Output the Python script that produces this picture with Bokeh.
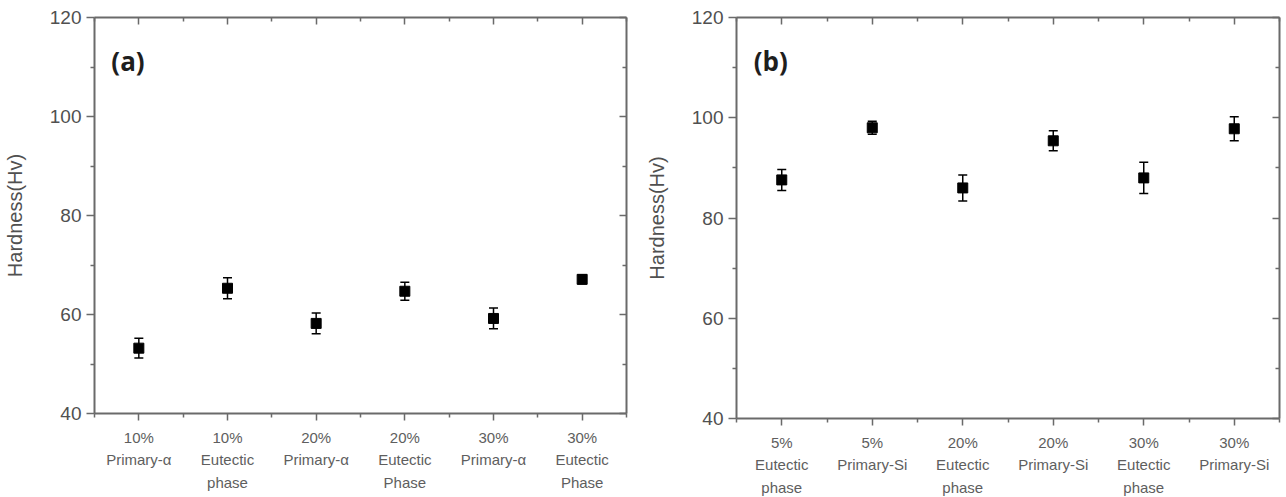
from bokeh.plotting import figure
from bokeh.models import (ColumnDataSource, FixedTicker, LinearAxis, Range1d,
                          Whisker, TeeHead, Label)
from bokeh.layouts import row
from bokeh.embed import file_html
from bokeh.resources import INLINE

# Panel (a): Al-Si alloys, primary alpha vs eutectic phase
labels_a = ["10%\nPrimary-α", "10%\nEutectic\nphase", "20%\nPrimary-α",
            "20%\nEutectic\nPhase", "30%\nPrimary-α", "30%\nEutectic\nPhase"]
hard_a = [53.2, 65.3, 58.2, 64.7, 59.2, 67.1]
err_a = [2.0, 2.1, 2.1, 1.8, 2.1, 0.9]

# Panel (b): hypereutectic alloys, eutectic phase vs primary Si
labels_b = ["5%\nEutectic\nphase", "5%\nPrimary-Si", "20%\nEutectic\nphase",
            "20%\nPrimary-Si", "30%\nEutectic\nphase", "30%\nPrimary-Si"]
hard_b = [87.6, 98.0, 86.0, 95.4, 88.0, 97.8]
err_b = [2.1, 1.3, 2.6, 2.0, 3.1, 2.4]

y_ticks = [40, 60, 80, 100, 120]
y_minor = [50, 70, 90, 110]

AXIS_COLOR = "#6a6a6a"
TEXT_COLOR = "#505050"


def style_axis(ax, tick_in, tick_out, minor_in, minor_out):
    ax.axis_line_color = AXIS_COLOR
    ax.axis_line_width = 2
    ax.major_tick_line_color = AXIS_COLOR
    ax.major_tick_line_width = 1.5
    ax.minor_tick_line_color = AXIS_COLOR
    ax.minor_tick_line_width = 1.5
    ax.major_tick_in = tick_in
    ax.major_tick_out = tick_out
    ax.minor_tick_in = minor_in
    ax.minor_tick_out = minor_out


def hide_labels(ax, ticks):
    # mirrored axes carry ticks only
    ax.major_label_overrides = {float(t): "" for t in ticks}
    ax.major_label_standoff = 0


def panel(labels, vals, errs, tag, frame_w, frame_h, b_left, b_top, b_right, b_bottom):
    n = len(vals)
    xs = list(range(1, n + 1))
    src = ColumnDataSource(dict(
        x=xs, y=vals,
        upper=[v + e for v, e in zip(vals, errs)],
        lower=[v - e for v, e in zip(vals, errs)],
    ))

    p = figure(frame_width=frame_w, frame_height=frame_h,
               x_range=Range1d(0.5, n + 0.5), y_range=Range1d(40, 120),
               x_axis_location=None, y_axis_location=None,
               output_backend="svg", toolbar_location=None,
               min_border_left=b_left, min_border_top=b_top,
               min_border_right=b_right, min_border_bottom=b_bottom,
               background_fill_color="white", border_fill_color="white")
    p.outline_line_color = None
    p.xgrid.visible = False
    p.ygrid.visible = False

    x_ticker = FixedTicker(ticks=xs, minor_ticks=[i + 0.5 for i in range(0, n + 1)])
    y_ticker = FixedTicker(ticks=y_ticks, minor_ticks=y_minor)

    # bottom axis with category labels
    bottom = LinearAxis(ticker=x_ticker)
    style_axis(bottom, 0, 7, 0, 4)
    bottom.major_label_overrides = {float(x): lab for x, lab in zip(xs, labels)}
    bottom.major_label_text_font = "Liberation Sans"
    bottom.major_label_text_font_size = "15px"
    bottom.major_label_text_color = "#5e5e5e"
    bottom.major_label_text_line_height = 1.33
    bottom.major_label_standoff = 8
    p.add_layout(bottom, "below")

    # left axis with hardness values
    left = LinearAxis(ticker=y_ticker, axis_label="Hardness(Hv)")
    style_axis(left, 0, 8, 0, 4)
    left.major_label_text_font = "Liberation Sans"
    left.major_label_text_font_size = "19px"
    left.major_label_text_color = TEXT_COLOR
    left.major_label_standoff = 5
    left.axis_label_text_font = "Liberation Sans"
    left.axis_label_text_font_size = "20px"
    left.axis_label_text_font_style = "normal"
    left.axis_label_text_color = TEXT_COLOR
    left.axis_label_standoff = 21
    p.add_layout(left, "left")

    # mirrored top and right axes
    top = LinearAxis(ticker=x_ticker)
    style_axis(top, 7, 0, 4, 0)
    hide_labels(top, xs)
    p.add_layout(top, "above")

    right = LinearAxis(ticker=y_ticker)
    style_axis(right, 7, 0, 4, 0)
    hide_labels(right, y_ticks)
    p.add_layout(right, "right")

    whisk = Whisker(source=src, base="x", upper="upper", lower="lower",
                    line_color="black", line_width=1.5,
                    upper_head=TeeHead(size=9, line_color="black", line_width=1.5),
                    lower_head=TeeHead(size=9, line_color="black", line_width=1.5))
    p.add_layout(whisk)
    p.scatter("x", "y", source=src, marker="square", size=10,
              fill_color="black", line_color="black")

    p.add_layout(Label(x=0.69, y=111.3, text=tag, text_font="Open Sans",
                       text_font_style="bold", text_font_size="26px",
                       text_color="#1e1e1e", text_baseline="middle",
                       text_align="left"))
    return p


pa = panel(labels_a, hard_a, err_a, "(a)", 532, 396, 92, 16, 16, 85)
pb = panel(labels_b, hard_b, err_b, "(b)", 543, 401, 88, 17, 15, 79)

layout = row(pa, pb)
open("out.html", "w").write(file_html(layout, INLINE))
